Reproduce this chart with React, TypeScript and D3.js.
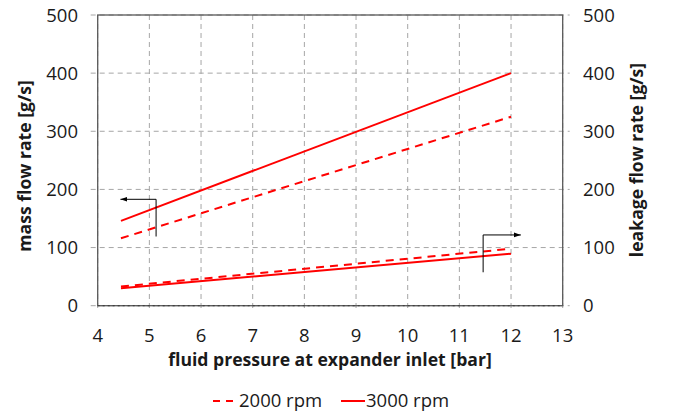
import React from "react";
import * as d3 from "d3";

const pressure = [4.45, 12];
const massFlow2000 = [116, 325];
const massFlow3000 = [146, 400];
const leak2000 = [33, 98];
const leak3000 = [30, 89.5];
const xTicks = [4, 5, 6, 7, 8, 9, 10, 11, 12, 13];
const yTicks = [0, 100, 200, 300, 400, 500];
// arrow indicator points [x, y]
const leftArrow: [number, number][] = [[5.13, 119], [5.13, 183], [4.44, 183]];
const rightArrow: [number, number][] = [[11.46, 57.5], [11.46, 121.7], [12.19, 121.7]];
const seriesNames = ["2000 rpm", "3000 rpm"];

const W = 676, H = 412;
const L = 97.7, R = 562.7, T = 15, B = 305.7;
const FONT = "'Open Sans', sans-serif";
const TICK_FS = 18.5;
const TITLE_FS = 17.6;

export default function App() {
  const x = d3.scaleLinear().domain([4, 13]).range([L, R]);
  const y = d3.scaleLinear().domain([0, 500]).range([B, T]);
  const line = d3.line<[number, number]>().x(d => x(d[0])).y(d => y(d[1]));
  const mk = (v: number[]) => pressure.map((p, i) => [p, v[i]] as [number, number]);
  const red = "#ff0000";
  const grid = "#a6a6a6";
  const txt = "#1a1a1a";
  return (
    <svg width={W} height={H} style={{ position: "absolute", left: 0, top: 0, background: "#fff" }}>
      <defs>
        <marker id="ah" viewBox="0 0 10 10" refX="10" refY="5" markerWidth="7" markerHeight="7" orient="auto">
          <path d="M0,1.5 L10,5 L0,8.5 Z" fill="#000" />
        </marker>
      </defs>
      {xTicks.map(t => (
        <line key={"gx" + t} x1={x(t)} x2={x(t)} y1={T} y2={B + 6} stroke={grid} strokeWidth={1} strokeDasharray="5,4" />
      ))}
      {yTicks.map(t => (
        <line key={"gy" + t} x1={L - 7} x2={R + 7} y1={y(t)} y2={y(t)} stroke={grid} strokeWidth={1} strokeDasharray="5,4" />
      ))}
      <rect x={L} y={T} width={R - L} height={B - T} fill="none" stroke="#595959" strokeWidth={1.3} />
      <line x1={L} x2={R} y1={B} y2={B} stroke="#404040" strokeWidth={1.3} strokeDasharray="2,3" />
      {xTicks.map(t => (
        <text key={"tx" + t} x={x(t)} y={342} textAnchor="middle" fontFamily={FONT} fontSize={TICK_FS} fill={txt}>{t}</text>
      ))}
      {yTicks.map(t => (
        <text key={"tyl" + t} x={78} y={y(t) + 6.5} textAnchor="end" fontFamily={FONT} fontSize={TICK_FS} fill={txt}>{t}</text>
      ))}
      {yTicks.map(t => (
        <text key={"tyr" + t} x={583} y={y(t) + 6.5} textAnchor="start" fontFamily={FONT} fontSize={TICK_FS} fill={txt}>{t}</text>
      ))}
      <path d={line(mk(massFlow3000)) || ""} fill="none" stroke={red} strokeWidth={2} />
      <path d={line(mk(massFlow2000)) || ""} fill="none" stroke={red} strokeWidth={2} strokeDasharray="8,6" />
      <path d={line(mk(leak3000)) || ""} fill="none" stroke={red} strokeWidth={2} />
      <path d={line(mk(leak2000)) || ""} fill="none" stroke={red} strokeWidth={2} strokeDasharray="8,6" />
      <path d={line(leftArrow) || ""} fill="none" stroke="#000" strokeWidth={1} markerEnd="url(#ah)" />
      <path d={line(rightArrow) || ""} fill="none" stroke="#000" strokeWidth={1} markerEnd="url(#ah)" />
      <text transform={`translate(31,166) rotate(-90)`} textAnchor="middle" fontFamily={FONT} fontWeight="bold" fontSize={TITLE_FS} fill={txt}>mass flow rate [g/s]</text>
      <text transform={`translate(643,160) rotate(-90)`} textAnchor="middle" fontFamily={FONT} fontWeight="bold" fontSize={TITLE_FS} fill={txt}>leakage flow rate [g/s]</text>
      <text x={330} y={366} textAnchor="middle" fontFamily={FONT} fontWeight="bold" fontSize={TITLE_FS} fill={txt}>fluid pressure at expander inlet [bar]</text>
      <line x1={213} x2={237} y1={401} y2={401} stroke={red} strokeWidth={2} strokeDasharray="7,6" />
      <text x={239} y={407} fontFamily={FONT} fontSize={TICK_FS} fill={txt}>{seriesNames[0]}</text>
      <line x1={341} x2={365} y1={401} y2={401} stroke={red} strokeWidth={2} />
      <text x={366} y={407} fontFamily={FONT} fontSize={TICK_FS} fill={txt}>{seriesNames[1]}</text>
    </svg>
  );
}
